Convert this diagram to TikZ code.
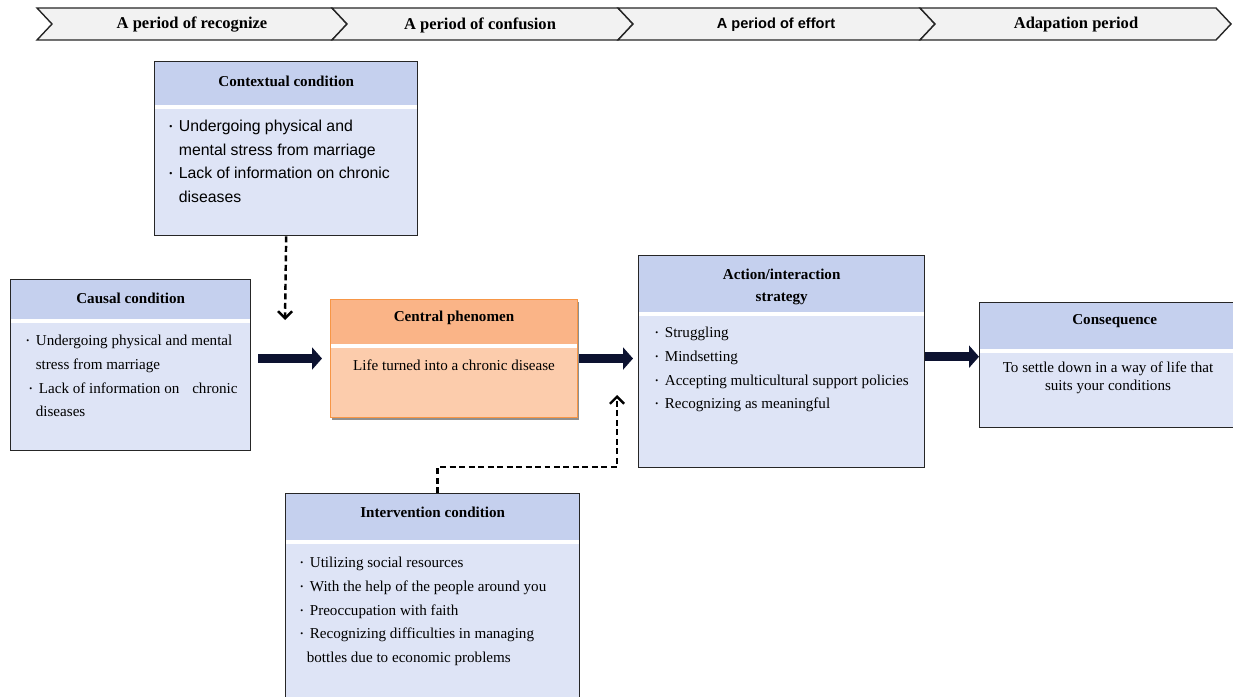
\documentclass[tikz,border=0pt]{standalone}
\usepackage{fontspec}
\setmainfont{Liberation Serif}
\setsansfont{Liberation Sans}
\usetikzlibrary{positioning,calc,arrows.meta,shadows}

\definecolor{headblue}{HTML}{C5D0EE}
\definecolor{bodyblue}{HTML}{DEE4F6}
\definecolor{headorange}{HTML}{FAB487}
\definecolor{bodyorange}{HTML}{FCCCAC}
\definecolor{lineorange}{HTML}{F79646}
\definecolor{arrownavy}{HTML}{0C1230}
\definecolor{phasegray}{HTML}{F2F2F2}

\newcommand{\blt}{\makebox[0.19cm][l]{\raisebox{0.3ex}{\scalebox{0.55}{\textbullet}}}}
\newcommand{\ind}{\hspace*{0.19cm}}

\tikzset{
  phase/.style={draw=black!85, line width=0.8pt, fill=phasegray},
  phasetext/.style={font=\bfseries\fontsize{9.4}{11}\selectfont},
  condbox/.style={draw=black!85, line width=0.8pt, fill=white, anchor=north west, inner sep=0pt,
    path picture={
      \fill[headblue] (path picture bounding box.north west) rectangle ([yshift=-#1]path picture bounding box.north east);
      \fill[bodyblue] ([yshift=-#1-0.09cm]path picture bounding box.north west) rectangle (path picture bounding box.south east);
    }},
  headtext/.style={font=\bfseries\fontsize{8.6}{13}\selectfont, align=center},
  bodytext/.style={anchor=north west, inner sep=0pt, align=left, font=\fontsize{8.6}{13.5}\selectfont},
  blockarrow/.style={draw=arrownavy, line width=0.18cm, -{Triangle[length=0.2cm,width=0.44cm]}},
  dashconn/.style={line width=1.4pt, dash pattern=on 3.4pt off 2pt, -{Straight Barb[length=4pt,width=8pt]}},
}

\begin{document}
\begin{tikzpicture}[x=0.02cm, y=-0.02cm]
\useasboundingbox (0,0) rectangle (1233,696);
\clip (0,0) rectangle (1233,696);

% periods
\draw[phase] (37,8) -- (332,8) -- (347,24) -- (332,40) -- (37,40) -- (52,24) -- cycle;
\draw[phase] (332,8) -- (618,8) -- (633,24) -- (618,40) -- (332,40) -- (347,24) -- cycle;
\draw[phase] (618,8) -- (920,8) -- (935,24) -- (920,40) -- (618,40) -- (633,24) -- cycle;
\draw[phase] (920,8) -- (1216,8) -- (1231,24) -- (1216,40) -- (920,40) -- (935,24) -- cycle;

\node[phasetext] (recognize) at (192,25) {A period of recognize};
\node[phasetext] (confusion) at (480,25) {A period of confusion};
\node[phasetext, font=\sffamily\bfseries\fontsize{8.3}{10}\selectfont] (effort) at (776,25) {A period of effort};
\node[phasetext] (adaptation) at (1076,25) {Adapation period};

% conditions
\node[condbox=0.86cm, minimum width=5.26cm, minimum height=3.48cm] (context) at (154,61) {};
\node[headtext] (context-t) at ($(context.north)+(0,20)$) {Contextual condition};
\node[bodytext, font=\sffamily\fontsize{9}{13.4}\selectfont] (context-b) at ($(context.north west)+(15,59)$)
  {\blt Undergoing physical and\\ \ind mental stress from marriage\\ \blt Lack of information on chronic\\ \ind diseases};

\node[condbox=0.78cm, minimum width=4.8cm, minimum height=3.42cm] (causal) at (10,279) {};
\node[headtext] (causal-t) at ($(causal.north)+(0,19)$) {Causal condition};
\node[bodytext] (causal-b) at ($(causal.north west)+(16,56)$)
  {\blt Undergoing physical and mental\\ \ind stress from marriage\\ \hspace*{0.06cm}\blt Lack of information on\hspace{0.6em} chronic\\ \ind diseases};

\node[draw=lineorange, line width=0.6pt, fill=white, anchor=north west, inner sep=0pt,
  minimum width=4.94cm, minimum height=2.36cm,
  drop shadow={shadow xshift=0.6pt, shadow yshift=-1.6pt, fill=black!55, opacity=0.8},
  path picture={
    \fill[headorange] (path picture bounding box.north west) rectangle ([yshift=-0.88cm]path picture bounding box.north east);
    \fill[bodyorange] ([yshift=-0.96cm]path picture bounding box.north west) rectangle (path picture bounding box.south east);
  }] (central) at (330,299) {};
\node[headtext] (central-t) at ($(central.north)+(0,19)$) {Central phenomen};
\node[font=\fontsize{8.6}{13.5}\selectfont] (central-b) at ($(central.north)+(0,66)$) {Life turned into a chronic disease};

\node[condbox=1.12cm, minimum width=5.72cm, minimum height=4.24cm] (action) at (638,255) {};
\node[headtext] (action-t) at ($(action.north)+(0,32)$) {Action/interaction\\strategy};
\node[bodytext] (action-b) at ($(action.north west)+(17,72)$)
  {\blt Struggling\\ \blt Mindsetting\\ \blt Accepting multicultural support policies\\ \blt Recognizing as meaningful};

\node[condbox=0.92cm, minimum width=5.4cm, minimum height=2.5cm] (cons) at (979,302) {};
\node[headtext] (cons-t) at ($(cons.north)+(0,19)$) {Consequence};
\node[font=\fontsize{8.6}{10.4}\selectfont, align=center] (cons-b) at (1108,378)
  {To settle down in a way of life that\\suits your conditions};

\node[condbox=0.92cm, minimum width=5.88cm, minimum height=4.4cm] (intv) at (285,493) {};
\node[headtext] (intv-t) at ($(intv.north)+(0,19)$) {Intervention condition};
\node[bodytext] (intv-b) at ($(intv.north west)+(15,64)$)
  {\blt Utilizing social resources\\ \blt With the help of the people around you\\ \blt Preoccupation with faith\\ \blt Recognizing difficulties in managing\\ \hspace*{0.13cm}bottles due to economic problems};

% connectors
\draw[blockarrow, shorten <=0.14cm, shorten >=0.16cm] (causal.east |- central.west) -- (central.west);
\draw[blockarrow, shorten <=0.02cm, shorten >=0.1cm] (central.east) -- (action.west |- central.east);
\draw[blockarrow] ([yshift=0.1cm]action.east) -- ([yshift=0.1cm]action.east -| cons.west);

\coordinate (ctxend) at (285,320);
\coordinate (intvend) at (617,395);
\draw[dashconn] (context.south) -- (ctxend);
\draw[dashconn] ($(intv.north)+(5,0)$) -- ++(0,-26) -| (intvend);
\end{tikzpicture}
\end{document}
